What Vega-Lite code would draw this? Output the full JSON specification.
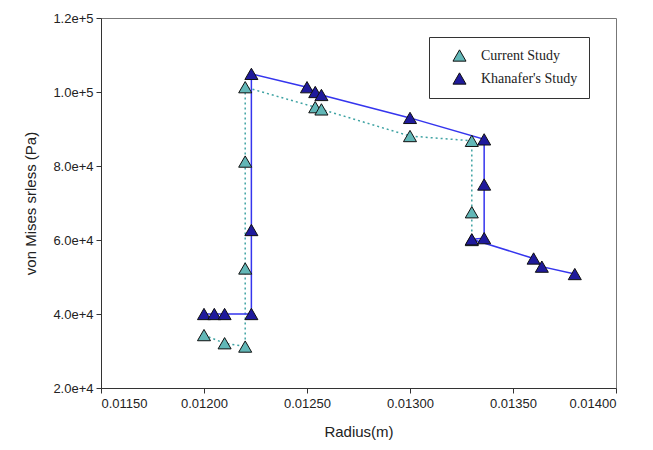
{
  "$schema": "https://vega.github.io/schema/vega-lite/v6.json",
  "width": 515,
  "height": 370,
  "autosize": "none",
  "padding": {"left": 101, "top": 18, "right": 37, "bottom": 62},
  "background": "white",
  "config": {
    "view": {"stroke": "#777", "strokeWidth": 1},
    "axis": {"labelFont": "Liberation Sans", "titleFont": "Liberation Sans", "labelFontSize": 13, "titleFontSize": 15, "titleFontWeight": "normal", "labelColor": "#222", "titleColor": "#222", "domainColor": "#333", "tickColor": "#333", "grid": false, "tickSize": 5}
  },
  "data": {"values": [
    {"series": "Current Study", "o": 1, "r": 0.0120, "s": 34300},
    {"series": "Current Study", "o": 2, "r": 0.0121, "s": 32100},
    {"series": "Current Study", "o": 3, "r": 0.0122, "s": 31200},
    {"series": "Current Study", "o": 4, "r": 0.0122, "s": 52300},
    {"series": "Current Study", "o": 5, "r": 0.0122, "s": 81200},
    {"series": "Current Study", "o": 6, "r": 0.0122, "s": 101300},
    {"series": "Current Study", "o": 7, "r": 0.01254, "s": 95900},
    {"series": "Current Study", "o": 8, "r": 0.01257, "s": 95300},
    {"series": "Current Study", "o": 9, "r": 0.0130, "s": 88100},
    {"series": "Current Study", "o": 10, "r": 0.0133, "s": 86800},
    {"series": "Current Study", "o": 11, "r": 0.0133, "s": 67500},
    {"series": "Current Study", "o": 12, "r": 0.0133, "s": 60000},
    {"series": "Khanafer's Study", "o": 1, "r": 0.0120, "s": 40000},
    {"series": "Khanafer's Study", "o": 2, "r": 0.01205, "s": 40000},
    {"series": "Khanafer's Study", "o": 3, "r": 0.0121, "s": 40000},
    {"series": "Khanafer's Study", "o": 4, "r": 0.01223, "s": 40000},
    {"series": "Khanafer's Study", "o": 5, "r": 0.01223, "s": 62700},
    {"series": "Khanafer's Study", "o": 6, "r": 0.01223, "s": 104900},
    {"series": "Khanafer's Study", "o": 7, "r": 0.0125, "s": 101300},
    {"series": "Khanafer's Study", "o": 8, "r": 0.01254, "s": 100000},
    {"series": "Khanafer's Study", "o": 9, "r": 0.01257, "s": 99200},
    {"series": "Khanafer's Study", "o": 10, "r": 0.0130, "s": 93000},
    {"series": "Khanafer's Study", "o": 11, "r": 0.01336, "s": 87200},
    {"series": "Khanafer's Study", "o": 12, "r": 0.01336, "s": 75000},
    {"series": "Khanafer's Study", "o": 13, "r": 0.01336, "s": 60500},
    {"series": "Khanafer's Study", "o": 14, "r": 0.0133, "s": 60200},
    {"series": "Khanafer's Study", "o": 15, "r": 0.0136, "s": 55000},
    {"series": "Khanafer's Study", "o": 16, "r": 0.01364, "s": 52800},
    {"series": "Khanafer's Study", "o": 17, "r": 0.0138, "s": 50800}
  ]},
  "encoding": {
    "x": {"field": "r", "type": "quantitative", "title": "Radius(m)",
      "scale": {"domain": [0.0115, 0.014], "nice": false, "zero": false},
      "axis": {"values": [0.0115, 0.012, 0.0125, 0.013, 0.0135, 0.014], "format": ".5f", "labelPadding": 4, "titlePadding": 14}},
    "y": {"field": "s", "type": "quantitative", "title": "von Mises srless (Pa)",
      "scale": {"domain": [20000, 120000], "nice": false, "zero": false},
      "axis": {"values": [20000, 40000, 60000, 80000, 100000, 120000], "format": ".1e", "labelPadding": 3, "titlePadding": 14}}
  },
  "layer": [
    {
      "transform": [{"filter": "datum.series === 'Current Study'"}],
      "mark": {"type": "line", "strokeWidth": 1.5, "stroke": "#3fa3a3", "strokeDash": [2, 3]},
      "encoding": {"order": {"field": "o", "type": "quantitative"}}
    },
    {
      "transform": [{"filter": "datum.series === \"Khanafer's Study\""}],
      "mark": {"type": "line", "strokeWidth": 1.5, "stroke": "#3535ee"},
      "encoding": {"order": {"field": "o", "type": "quantitative"}}
    },
    {
      "mark": {"type": "point", "shape": "triangle-up", "size": 170, "filled": true, "stroke": "#111", "strokeWidth": 1, "opacity": 1},
      "encoding": {
        "fill": {"field": "series", "type": "nominal",
          "scale": {"domain": ["Current Study", "Khanafer's Study"], "range": ["#62b7b7", "#1f1a9c"]},
          "legend": {"title": null, "orient": "none", "legendX": 328, "legendY": 19,
            "symbolType": "triangle-up", "symbolSize": 170, "symbolStrokeColor": "#111", "symbolStrokeWidth": 1, "symbolOpacity": 1,
            "labelFont": "Liberation Serif", "labelFontSize": 14, "labelColor": "#222",
            "strokeColor": "#333", "fillColor": "white", "padding": 11, "rowPadding": 6, "symbolOffset": 12, "labelOffset": 14, "offset": 0}}
      }
    }
  ]
}
